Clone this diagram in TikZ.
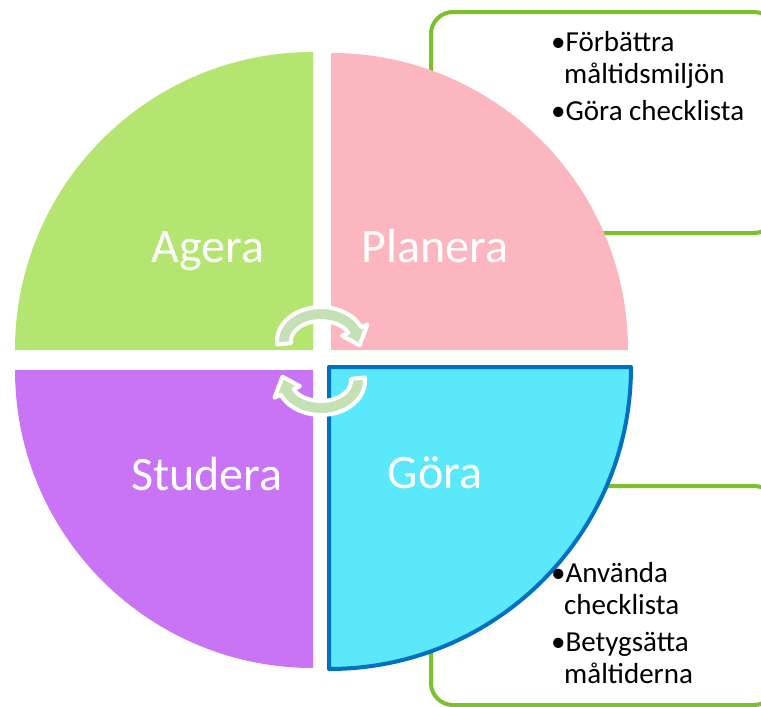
\documentclass[tikz,border=0pt]{standalone}
\usepackage{fontspec}
\setmainfont{Carlito}
\definecolor{ageragreen}{RGB}{179,229,112}
\definecolor{planpink}{RGB}{251,182,192}
\definecolor{studpurple}{RGB}{200,116,245}
\definecolor{goracyan}{RGB}{91,232,250}
\definecolor{gorablue}{RGB}{0,112,192}
\definecolor{boxgreen}{RGB}{124,193,43}
\definecolor{arrowgreen}{RGB}{197,224,180}
\begin{document}
\begin{tikzpicture}[x=1pt,y=1pt,
  lbl/.style={text=white,font=\fontsize{48}{52}\selectfont,inner sep=0pt,anchor=base},
  item/.style={text=black,font=\fontsize{29}{33}\selectfont,inner sep=0pt,anchor=base west},
  cyc/.style={fill=arrowgreen,draw=white,line width=4pt,line join=round},
  infobox/.style={draw=boxgreen,line width=4pt,rounded corners=22pt}]
\useasboundingbox (0,0) rectangle (761,-707);
% info boxes (behind)
\draw[infobox] (431,-12) rectangle (776,-233);
\draw[infobox] (431,-486) rectangle (776,-705);
% quadrants
\fill[ageragreen] (313,-350) -- (15,-350) arc[start angle=180,end angle=90,radius=298] -- cycle;
\fill[planpink] (331,-350) -- (331,-53) arc[start angle=90,end angle=0,radius=297] -- cycle;
\fill[studpurple] (313,-370) -- (15,-370) arc[start angle=180,end angle=270,radius=298] -- cycle;
\filldraw[fill=goracyan,draw=gorablue,line width=4pt,line join=round] (329,-367) -- (631,-367) arc[start angle=0,end angle=-90,radius=302] -- cycle;
% labels
\node[lbl] (agera) at (208,-262) {Agera};
\node[lbl] (planera) at (435,-262) {Planera};
\node[lbl] (studera) at (207,-490) {Studera};
\node[lbl] (gora) at (435,-488) {Göra};
% cycle arrows
\begin{scope}[shift={(321,-341)}]
\filldraw[cyc] (186:44 and 34) arc[start angle=186,end angle=24,x radius=44,y radius=34]
  -- (24:51 and 41) -- (-9:39 and 28) -- (24:23 and 13) -- (24:30 and 20)
  arc[start angle=24,end angle=186,x radius=30,y radius=20] -- cycle;
\end{scope}
\begin{scope}[shift={(321,-381)},rotate=180]
\filldraw[cyc] (186:44 and 34) arc[start angle=186,end angle=24,x radius=44,y radius=34]
  -- (24:51 and 41) -- (-9:39 and 28) -- (24:23 and 13) -- (24:30 and 20)
  arc[start angle=24,end angle=186,x radius=30,y radius=20] -- cycle;
\end{scope}
% bullet texts
\node[item] (t1) at (551,-51) {•Förbättra};
\node[item] (t2) at (564,-83) {måltidsmiljön};
\node[item] (t3) at (551,-120) {•Göra checklista};
\node[item] (b1) at (551,-582) {•Använda};
\node[item] (b2) at (564,-614) {checklista};
\node[item] (b3) at (551,-651) {•Betygsätta};
\node[item] (b4) at (564,-683) {måltiderna};
\end{tikzpicture}
\end{document}
